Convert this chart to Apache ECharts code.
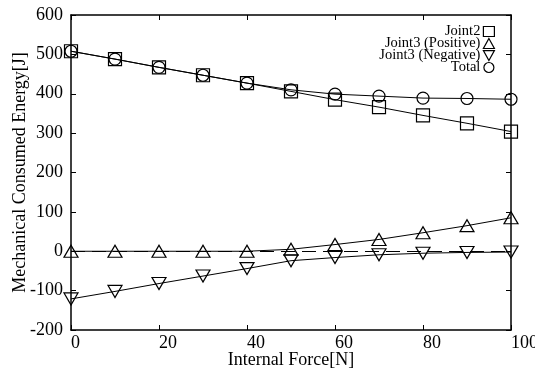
<!DOCTYPE html>
<html>
<head>
<meta charset="utf-8">
<script src="https://cdn.jsdelivr.net/npm/echarts@6/dist/echarts.min.js"></script>
<style>
  html, body { margin: 0; padding: 0; background: #fff; }
  #chart { width: 535px; height: 372px; }
</style>
</head>
<body>
<div id="chart"></div>
<script>
const forces = [0, 10, 20, 30, 40, 50, 60, 70, 80, 90, 100];
const joint2 = [508, 488, 467, 447, 427, 406, 385, 366, 345, 325, 304];
const positive = [0, 0, 0, 0, 0, 5, 17, 30, 47, 65, 85];
const negative = [-121, -102, -82, -63, -44, -24, -16, -9, -5, -3, -2];
const total = [508, 488, 467, 447, 427, 410, 399, 394, 389, 388, 386];

const FONT = "'Liberation Serif', 'Times New Roman', serif";
const DOWN_TRI = 'path://M0,0L10,0L5,9Z';

const pairs = vals => forces.map((f, i) => [f, vals[i]]);
const hollow = { color: 'rgba(0,0,0,0)', borderColor: '#000', borderWidth: 1.2 };

const mkSeries = (name, vals, symbol, size, extra) => Object.assign({
  name,
  type: 'line',
  data: pairs(vals),
  symbol,
  symbolSize: size,
  showAllSymbol: true,
  itemStyle: hollow,
  lineStyle: { color: '#000', width: 1 },
  emphasis: { disabled: true },
  animation: false
}, extra || {});

const chart = echarts.init(document.getElementById('chart'));

const axisCommon = {
  axisLine: { show: true, onZero: false, lineStyle: { color: '#000', width: 1.5 } },
  axisTick: { show: true, inside: true, length: 5, lineStyle: { color: '#000' } },
  splitLine: { show: false }
};

chart.setOption({
  backgroundColor: '#fff',
  grid: { left: 71, right: 24, top: 15, bottom: 42, outerBoundsMode: 'none', containLabel: false },
  legend: {
    orient: 'vertical',
    right: 40,
    top: 24,
    align: 'right',
    itemWidth: 11,
    itemHeight: 10,
    itemGap: -3,
    padding: 0,
    selectedMode: false,
    itemStyle: hollow,
    textStyle: { fontFamily: FONT, fontSize: 14.5, color: '#000', padding: [0, -2, 0, 0] },
    data: [
      { name: 'Joint2', icon: 'rect' },
      { name: 'Joint3 (Positive)', icon: 'triangle' },
      { name: 'Joint3 (Negative)', icon: DOWN_TRI },
      { name: 'Total', icon: 'circle' }
    ]
  },
  xAxis: [
    Object.assign({
      type: 'value', min: 0, max: 100, interval: 20, position: 'bottom',
      name: 'Internal Force[N]', nameLocation: 'middle', nameGap: 21, nameMoveOverlap: false,
      nameTextStyle: { fontFamily: FONT, fontSize: 18, color: '#000' },
      axisLabel: { fontFamily: FONT, fontSize: 18, color: '#000', align: 'left', margin: 4 }
    }, axisCommon),
    Object.assign({
      type: 'value', min: 0, max: 100, interval: 20, position: 'top',
      axisLabel: { show: false }
    }, axisCommon)
  ],
  yAxis: [
    Object.assign({
      type: 'value', min: -200, max: 600, interval: 100, position: 'left',
      name: 'Mechanical Consumed Energy[J]', nameLocation: 'middle', nameGap: 42, nameMoveOverlap: false,
      nameTextStyle: { fontFamily: FONT, fontSize: 18, color: '#000' },
      axisLabel: { fontFamily: FONT, fontSize: 18, color: '#000', margin: 8 }
    }, axisCommon),
    Object.assign({
      type: 'value', min: -200, max: 600, interval: 100, position: 'right',
      axisLabel: { show: false }
    }, axisCommon)
  ],
  series: [
    mkSeries('Joint2', joint2, 'rect', 13),
    mkSeries('Joint3 (Positive)', positive, 'triangle', [14, 12], {
      markLine: {
        silent: true,
        symbol: 'none',
        label: { show: false },
        lineStyle: { color: '#000', width: 1, type: [14, 7] },
        data: [{ yAxis: 0 }],
        animation: false
      }
    }),
    mkSeries('Joint3 (Negative)', negative, DOWN_TRI, [14, 12]),
    mkSeries('Total', total, 'circle', 12)
  ]
});
</script>
</body>
</html>
